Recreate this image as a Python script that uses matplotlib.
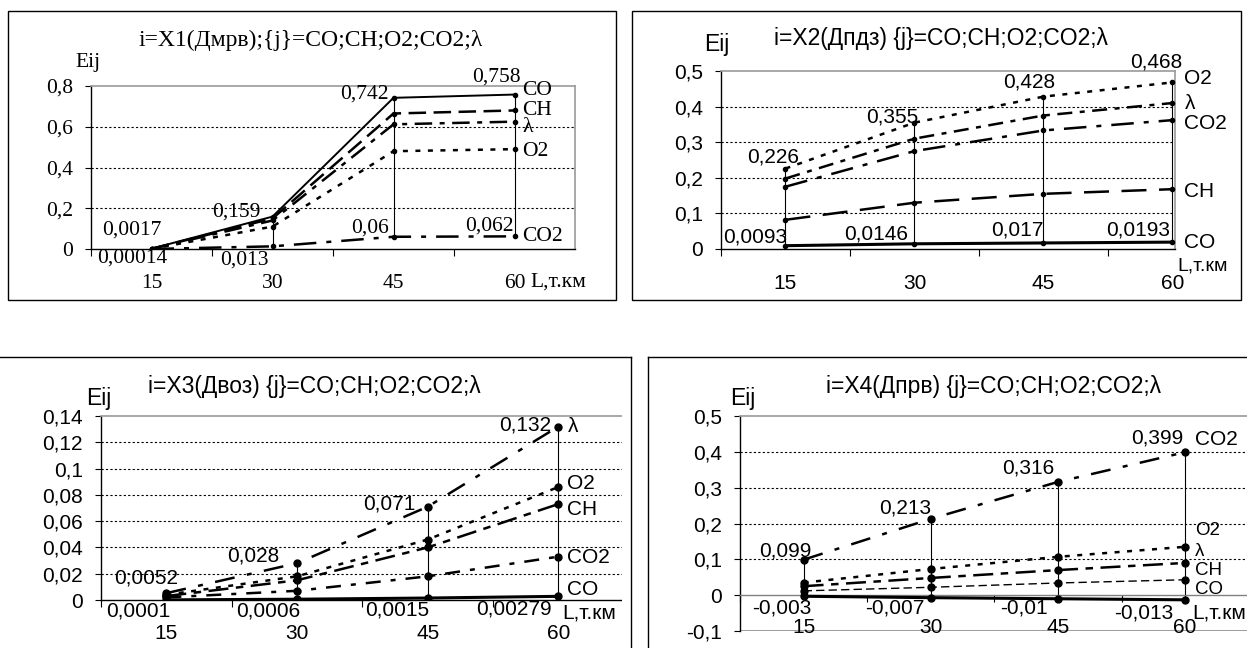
import numpy as np
import matplotlib
matplotlib.use('Agg')
import matplotlib.pyplot as plt
from matplotlib.patches import Rectangle
from matplotlib.lines import Line2D

W, H = 1247, 648

# categories (L, thousand km)
L = [15, 30, 45, 60]
cat_labels = ['15', '30', '45', '60']

# X1 (Дмрв)
x1_co = [0.0017, 0.159, 0.742, 0.758]
x1_ch = [0.001, 0.15, 0.665, 0.68]
x1_lam = [0.001, 0.14, 0.612, 0.625]
x1_o2 = [0.0008, 0.11, 0.48, 0.49]
x1_co2 = [0.00014, 0.013, 0.06, 0.062]

# X2 (Дпдз)
x2_o2 = [0.226, 0.355, 0.428, 0.468]
x2_lam = [0.198, 0.31, 0.375, 0.41]
x2_co2 = [0.175, 0.275, 0.333, 0.362]
x2_ch = [0.082, 0.13, 0.155, 0.168]
x2_co = [0.0093, 0.0146, 0.017, 0.0193]

# X3 (Двоз)
x3_lam = [0.0052, 0.028, 0.071, 0.132]
x3_o2 = [0.004, 0.018, 0.046, 0.086]
x3_ch = [0.003, 0.015, 0.040, 0.073]
x3_co2 = [0.002, 0.007, 0.018, 0.033]
x3_co = [0.0001, 0.0006, 0.0015, 0.00279]
x3_top_text = ['0;0052', '0,028', '0,071', '0,132']

# X4 (Дпрв)
x4_co2 = [0.099, 0.213, 0.316, 0.399]
x4_o2 = [0.035, 0.073, 0.107, 0.135]
x4_lam = [0.025, 0.048, 0.070, 0.090]
x4_ch = [0.012, 0.022, 0.034, 0.043]
x4_co = [-0.003, -0.007, -0.01, -0.013]


def fmt(v):
    return ('%g' % v).replace('.', ',')


def px_axes(fig, left, top, right, bottom):
    return fig.add_axes([left / W, 1 - bottom / H, (right - left) / W, (bottom - top) / H])


def fig_text(fig, x, y, s, **kw):
    fig.text(x / W, 1 - y / H, s, **kw)


def px_rect(fig, left, top, right, bottom, **kw):
    fig.patches.append(Rectangle((left / W, 1 - bottom / H), (right - left) / W, (bottom - top) / H,
                                 transform=fig.transFigure, **kw))


def px_line(fig, x0, y0, x1, y1):
    fig.lines.append(Line2D([x0 / W, x1 / W], [1 - y0 / H, 1 - y1 / H], transform=fig.transFigure,
                            color='black', lw=1.0, zorder=6))


def style_axes(ax, xlim, ylim, yticks, font, fs, label_pad, axis_color='black'):
    ax.spines['bottom'].set_position(('data', 0))
    ax.set_xlim(*xlim)
    ax.set_ylim(*ylim)
    ax.set_yticks(yticks)
    ax.set_yticklabels([fmt(round(t, 2)) for t in yticks])
    ax.set_xticks(L)
    ax.set_xticklabels(cat_labels)
    ax.set_xticks([7.5, 22.5, 37.5, 52.5], minor=True)
    ax.tick_params(axis='both', labelsize=fs, labelfontfamily=font)
    ax.tick_params(axis='x', which='major', length=0, pad=label_pad)
    ax.tick_params(axis='x', which='minor', length=5, width=0.8, direction='out')
    ax.tick_params(axis='y', length=4, width=0.8, direction='out', pad=9)
    ax.spines['bottom'].set_linewidth(1.0)
    ax.spines['bottom'].set_color(axis_color)
    ax.spines['left'].set_linewidth(1.0)
    for s in ('top', 'right'):
        ax.spines[s].set_color('#9a9a9a')
        ax.spines[s].set_linewidth(1.2)
    for t in yticks:
        if ylim[0] < t < ylim[1] and t != 0:
            ax.axhline(t, color='black', ls=(0, (2, 2)), lw=0.8, zorder=0)


def draw_series(ax, series, ms):
    vals = np.array([s[0] for s in series])
    ax.vlines(L, vals.min(axis=0), vals.max(axis=0), color='black', lw=0.8, zorder=1)
    for y, dash, lw in series:
        ax.plot(L, y, color='black', lw=lw, dashes=dash if dash else (None, None),
                ls='-', marker='o', ms=ms, mfc='black', mec='black', zorder=3)


def point_labels(ax, y, texts, offsets, font, fs):
    for x, v, t, (dx, dy) in zip(L, y, texts, offsets):
        ax.annotate(t, (x, v), xytext=(dx, dy), textcoords='offset pixels',
                    ha='right', va='center', family=font, fontsize=fs, zorder=5)


def series_names(ax, series, names, offsets, font, fs):
    for (y, _, _), n, (dx, dy) in zip(series, names, offsets):
        ax.annotate(n, (L[-1], y[-1]), xytext=(dx, dy), textcoords='offset pixels',
                    ha='left', va='center', family=font, fontsize=fs, annotation_clip=False)


fig = plt.figure(figsize=(W / 100, H / 100), dpi=100)
fig.patch.set_facecolor('white')

SERIF = 'Liberation Serif'
SANS = 'Liberation Sans'
FS1, FT1 = 15.5, 17    # panel X1: labels, title
FS, FT = 15, 16.5      # panels X2-X4

# ---------- panel X1 ----------
px_rect(fig, 8, 11, 616, 300, fill=False, ec='black', lw=1.0)
ax1 = px_axes(fig, 91, 86, 575, 249)
style_axes(ax1, (7.5, 67.5), (0, 0.8), [0, 0.2, 0.4, 0.6, 0.8], SERIF, FS1, 18)
s1 = [(x1_co, None, 1.4), (x1_ch, (7, 3), 1.8), (x1_lam, (7, 3, 2, 3), 1.8),
      (x1_o2, (2, 3), 1.8), (x1_co2, (9, 4, 2, 4), 1.8)]
draw_series(ax1, s1, 3)
point_labels(ax1, x1_co, [fmt(v) for v in x1_co], [(10, 19), (-12, 5), (-5, 4), (6, 18)], SERIF, FS1)
point_labels(ax1, x1_co2, [fmt(v) for v in x1_co2], [(16, -9), (-4, -14), (-5, 9), (-1, 10)], SERIF, FS1)
series_names(ax1, s1, ['CO', 'CH', 'λ', 'O2', 'CO2'], [(8, 4), (8, 0), (8, -6), (8, -2), (8, 0)], SERIF, FS1)
fig_text(fig, 311, 40, 'i=X1(Дмрв);{j}=CO;CH;O2;CO2;λ', family=SERIF, fontsize=FT1, ha='center', va='center')
fig_text(fig, 75, 62, 'Eij', family=SERIF, fontsize=FS1, ha='left', va='center')
fig_text(fig, 530, 282, 'L,т.км', family=SERIF, fontsize=FS1, ha='left', va='center')

# ---------- panel X2 ----------
px_rect(fig, 632, 11, 1241, 300, fill=False, ec='black', lw=1.0)
ax2 = px_axes(fig, 721, 71, 1175, 249)
style_axes(ax2, (7.5, 60.3), (0, 0.5), [0, 0.1, 0.2, 0.3, 0.4, 0.5], SANS, FS, 18)
s2 = [(x2_o2, (2, 3), 1.8), (x2_lam, (6, 3, 2, 3), 1.8), (x2_co2, (9, 4, 2, 4), 1.8),
      (x2_ch, (10, 5), 1.8), (x2_co, None, 2.2)]
draw_series(ax2, s2, 3)
point_labels(ax2, x2_o2, [fmt(v) for v in x2_o2], [(14, 12), (4, 6), (12, 15), (10, 20)], SANS, FS)
point_labels(ax2, x2_co, [fmt(v) for v in x2_co], [(2, 9), (-6, 10), (0, 13), (-2, 12)], SANS, FS)
series_names(ax2, s2, ['O2', 'λ', 'CO2', 'CH', 'CO'], [(12, 4), (12, 0), (12, -3), (12, -2), (12, 0)], SANS, FS)
fig_text(fig, 941, 39, 'i=X2(Дпдз) {j}=CO;CH;O2;CO2;λ', family=SANS, fontsize=FT, ha='center', va='center')
fig_text(fig, 704, 45, 'Eij', family=SANS, fontsize=FT, ha='left', va='center')
fig_text(fig, 1177, 266, 'L,т.км', family=SANS, fontsize=14, ha='left', va='center')

# ---------- panel X3 ----------
ax3 = px_axes(fig, 101, 416, 622, 600)
style_axes(ax3, (7.5, 67.3), (0, 0.14), [0, 0.02, 0.04, 0.06, 0.08, 0.1, 0.12, 0.14], SANS, FS, 17)
ax3.spines['right'].set_visible(False)
s3 = [(x3_lam, (8, 5, 2, 5), 1.8), (x3_o2, (2, 3), 1.8), (x3_ch, (8, 3, 3, 3), 1.8),
      (x3_co2, (6, 4, 2, 4), 1.8), (x3_co, None, 2.2)]
draw_series(ax3, s3, 5)
point_labels(ax3, x3_lam, x3_top_text, [(12, 15), (-18, 7), (-12, 3), (-7, 2)], SANS, FS)
point_labels(ax3, x3_co, [fmt(v) for v in x3_co], [(4, -11), (3, -12), (2, -12), (-7, -13)], SANS, FS)
series_names(ax3, s3, ['λ', 'O2', 'CH', 'CO2', 'CO'], [(9, 0), (9, 3), (9, -5), (9, -1), (9, 7)], SANS, FS)
fig_text(fig, 314, 386, 'i=X3(Двоз) {j}=CO;CH;O2;CO2;λ', family=SANS, fontsize=FT, ha='center', va='center')
fig_text(fig, 86, 399, 'Eij', family=SANS, fontsize=FT, ha='left', va='center')
fig_text(fig, 562, 613, 'L,т.км', family=SANS, fontsize=FS, ha='left', va='center')

# ---------- panel X4 ----------
ax4 = px_axes(fig, 740, 416, 1247, 631)
style_axes(ax4, (7.5, 67.3), (-0.1, 0.5), [-0.1, 0, 0.1, 0.2, 0.3, 0.4, 0.5], SANS, FS, 16.5,
           axis_color='#808080')
ax4.spines['right'].set_visible(False)
ax4.axhline(-0.1, color='#a0a0a0', lw=2.2, zorder=0)
s4 = [(x4_co2, (8, 5, 2, 5), 1.8), (x4_o2, (2, 3), 1.8), (x4_lam, (8, 3, 3, 3), 1.8),
      (x4_ch, (6, 3), 1.0), (x4_co, None, 2.2)]
draw_series(ax4, s4, 5)
point_labels(ax4, x4_co2, [fmt(v) for v in x4_co2], [(8, 9), (0, 11), (-4, 14), (-2, 14)], SANS, FS)
point_labels(ax4, x4_co, [fmt(v) for v in x4_co], [(8, -12), (-6, -10), (-10, -9), (-12, -13)], SANS, FS)
series_names(ax4, s4[:1], ['CO2'], [(10, 13)], SANS, FS)
series_names(ax4, s4[1:], ['O2', 'λ', 'CH', 'CO'], [(10, 16), (10, 11), (10, 9), (10, 10)], SANS, 13.5)
fig_text(fig, 994, 386, 'i=X4(Дпрв) {j}=CO;CH;O2;CO2;λ', family=SANS, fontsize=FT, ha='center', va='center')
fig_text(fig, 730, 399, 'Eij', family=SANS, fontsize=FT, ha='left', va='center')
fig_text(fig, 1192, 613, 'L,т.км', family=SANS, fontsize=FS, ha='left', va='center')

# cut between the two lower panels, then their frame lines
px_rect(fig, 622, 357.5, 647.5, 648, fc='white', ec='none', zorder=5)
px_line(fig, 0, 357, 631, 357)
px_line(fig, 631, 357, 631, 648)
px_line(fig, 648, 357, 1247, 357)
px_line(fig, 648, 357, 648, 648)

fig.savefig('out.png', dpi=100)
